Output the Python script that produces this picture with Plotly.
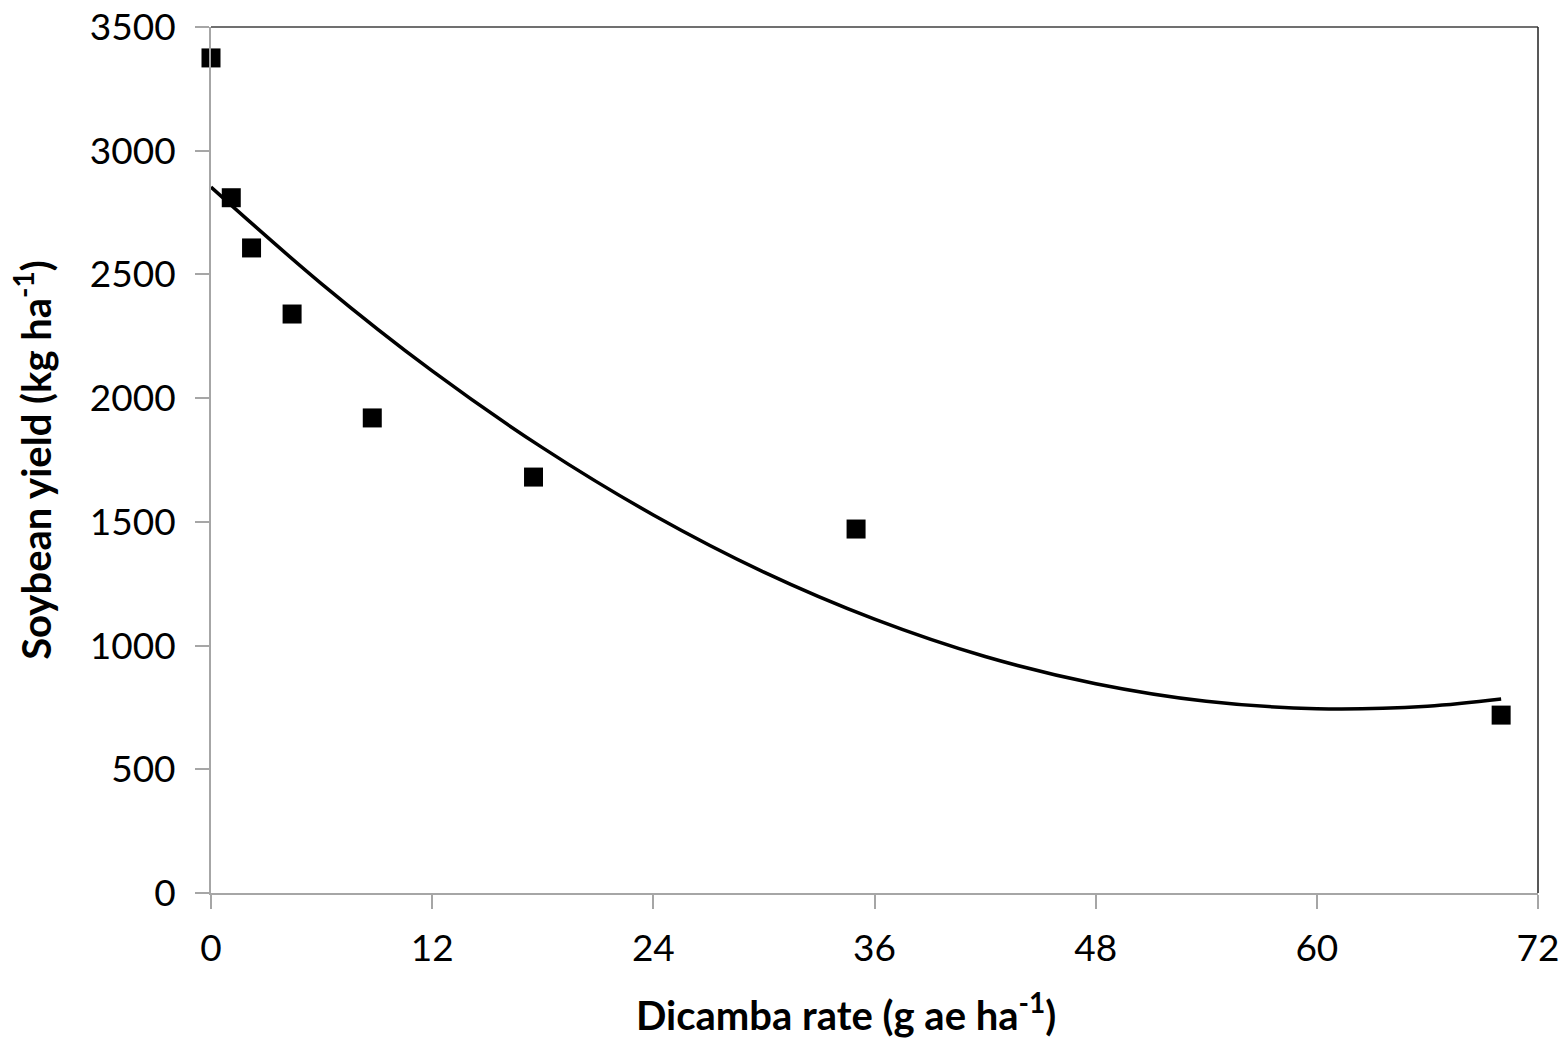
import plotly.graph_objects as go

# Observed data (squares)
rate = [0, 1.1, 2.2, 4.4, 8.75, 17.5, 35, 70]
yield_obs = [3375, 2810, 2607, 2340, 1920, 1681, 1471, 719]

# Fitted curve
fit_rate = [0, 6, 12, 18, 24, 30, 36, 42, 48, 54, 60, 66, 70]
fit_yield = [2853, 2462, 2110, 1799, 1528, 1297, 1107, 956, 846, 775, 745, 755, 784]

xticks = [0, 12, 24, 36, 48, 60, 72]
yticks = [0, 500, 1000, 1500, 2000, 2500, 3000, 3500]

FONT = "Lato"

fig = go.Figure()
fig.add_trace(go.Scatter(x=fit_rate, y=fit_yield, mode="lines",
                         line=dict(color="black", width=3.5, shape="spline"),
                         showlegend=False, hoverinfo="skip", cliponaxis=False))
fig.add_trace(go.Scatter(x=rate, y=yield_obs, mode="markers",
                         marker=dict(symbol="square", size=19, color="black"),
                         showlegend=False, cliponaxis=False))

fig.update_layout(
    width=1566, height=1049,
    margin=dict(l=211, r=28, t=27, b=156),
    paper_bgcolor="white", plot_bgcolor="white",
    font=dict(family=FONT, color="black", size=37),
    xaxis=dict(range=[0, 72], tickvals=xticks, showgrid=False, zeroline=False,
               showline=True, linecolor="#a6a6a6", linewidth=2, automargin=False,
               ticks="outside", ticklen=14, tickcolor="#a6a6a6", tickwidth=2,
               tickfont=dict(size=37, family=FONT), ticklabelstandoff=8),
    yaxis=dict(range=[0, 3500], tickvals=yticks, showgrid=False, zeroline=False,
               showline=True, linecolor="#a6a6a6", linewidth=2, automargin=False,
               ticks="outside", ticklen=14, tickcolor="#a6a6a6", tickwidth=2,
               tickfont=dict(size=37, family=FONT), ticklabelstandoff=12,
               title=dict(text="<b>Soybean yield (kg ha<sup>-1</sup>)</b>",
                          font=dict(size=40, family=FONT), standoff=26)),
    annotations=[
        dict(text="<b>Dicamba rate (g ae ha<sup>-1</sup>)</b>", xref="paper", yref="paper",
             x=0.4785, y=-0.137, xanchor="center", yanchor="middle", showarrow=False,
             font=dict(size=40, family=FONT, color="black")),
    ],
    shapes=[
        dict(type="line", xref="paper", yref="paper", x0=0, x1=1, y0=1, y1=1,
             line=dict(color="#404040", width=1.5)),
        dict(type="line", xref="paper", yref="paper", x0=1, x1=1, y0=0, y1=1,
             line=dict(color="#202020", width=1.5)),
    ],
)

fig.write_html("out.html")
